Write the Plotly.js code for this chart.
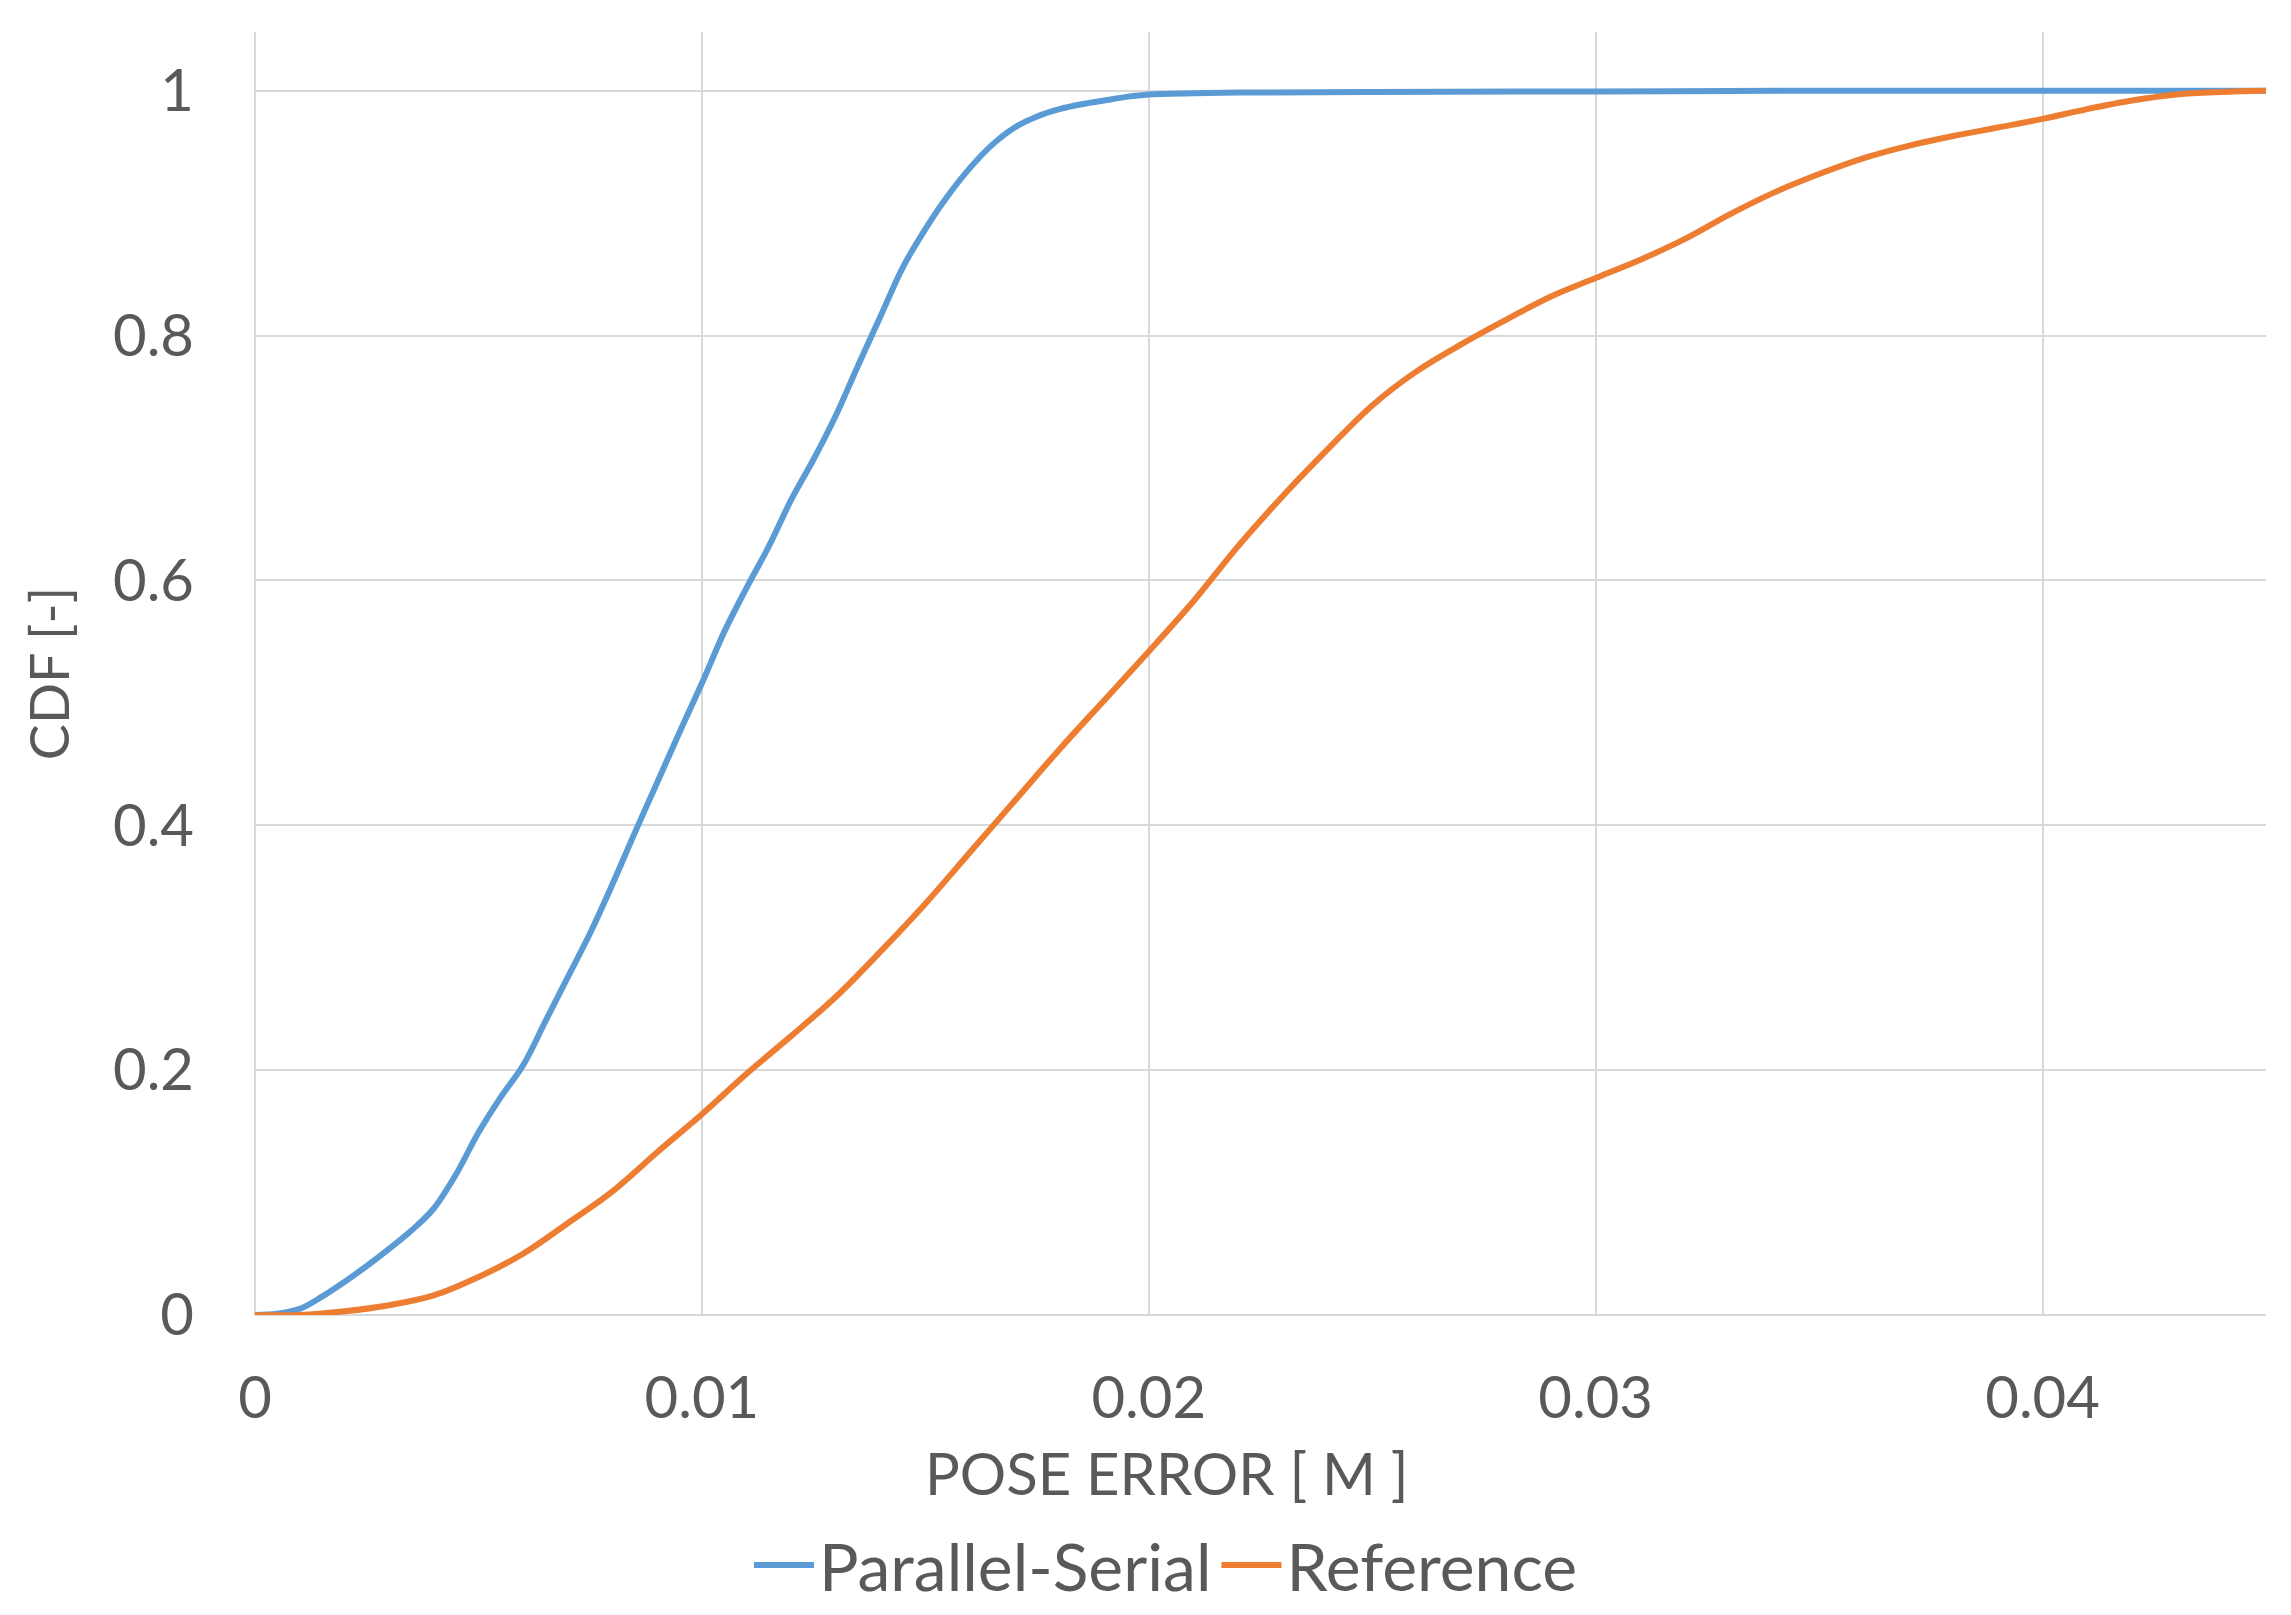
<!DOCTYPE html>
<html>
<head>
<meta charset="utf-8">
<script src="https://cdn.plot.ly/plotly-3.0.1.min.js"></script>
<style>
html,body{margin:0;padding:0;background:#fff;}
#chart{width:2291px;height:1615px;}
</style>
</head>
<body>
<div id="chart"></div>
<script>
// pose error [m] vs CDF
let errParallel=[0,0.0005,0.001,0.0015,0.002,0.0025,0.003,0.0035,0.004,0.0045,
0.005,0.0055,0.006,0.0065,0.007,0.0075,0.008,0.0085,0.009,0.0095,
0.01,0.0105,0.011,0.0115,0.012,0.0125,0.013,0.0135,0.014,0.0145,
0.015,0.0155,0.016,0.0165,0.017,0.0175,0.018,0.0185,0.019,0.0195,
0.02,0.021,0.022,0.025,0.03,0.035,0.04,0.045];

let cdfParallel=[0,0.001,0.005,0.015,0.027,0.04,0.054,0.069,0.087,0.115,
0.149,0.178,0.204,0.24,0.276,0.312,0.352,0.394,0.435,0.476,
0.516,0.558,0.594,0.628,0.666,0.699,0.735,0.776,0.816,0.856,
0.887,0.914,0.937,0.956,0.97,0.979,0.985,0.989,0.992,0.995,
0.997,0.998,0.9985,0.999,0.9995,1,1,1];

let errReference=[0,0.001,0.002,0.003,0.004,0.005,0.006,0.007,0.008,0.009,
0.01,0.011,0.012,0.013,0.014,0.015,0.016,0.017,0.018,0.019,
0.02,0.021,0.022,0.023,0.024,0.025,0.026,0.027,0.028,0.029,
0.03,0.031,0.032,0.033,0.034,0.035,0.036,0.037,0.038,0.039,
0.04,0.041,0.042,0.043,0.044,0.045];

let cdfReference=[0,0,0.003,0.008,0.016,0.031,0.05,0.075,0.101,0.133,
0.164,0.197,0.228,0.26,0.297,0.336,0.378,0.42,0.462,0.502,
0.542,0.583,0.628,0.669,0.707,0.743,0.771,0.793,0.813,0.832,
0.847,0.862,0.879,0.899,0.917,0.932,0.945,0.955,0.963,0.970,
0.977,0.985,0.992,0.997,0.999,1];

let xTicks=[0,0.01,0.02,0.03,0.04];
let xTickText=["0","0.01","0.02","0.03","0.04"];
let yTicks=[0,0.2,0.4,0.6,0.8,1];
let yTickText=["0","0.2","0.4","0.6","0.8","1"];

let font="Lato, 'Open Sans', sans-serif";
let grey="#595959";
let grid="#d9d9d9";

let traces=[
{
x:errParallel,
y:cdfParallel,
type:"scatter",
mode:"lines",
name:"Parallel-Serial",
line:{color:"#5b9bd5",width:6,shape:"spline",smoothing:1}
},
{
x:errReference,
y:cdfReference,
type:"scatter",
mode:"lines",
name:"Reference",
line:{color:"#ed7d31",width:6,shape:"spline",smoothing:1}
}
];

let layout={
width:2291,
height:1615,
paper_bgcolor:"#fff",
plot_bgcolor:"#fff",
font:{family:font,color:grey},
margin:{l:255,r:25,t:32,b:300,autoexpand:false},
showlegend:true,
legend:{
orientation:"h",
x:0.453,
xanchor:"center",
y:-0.195,
yanchor:"middle",
font:{size:66,color:grey},
itemwidth:60,
traceorder:"normal"
},
xaxis:{
range:[0,0.045],
tickvals:xTicks,
ticktext:xTickText,
showgrid:true,
gridcolor:grid,
gridwidth:2,
zeroline:true,
zerolinecolor:grid,
zerolinewidth:2,
showline:false,
ticks:"",
ticklabelstandoff:44,
tickfont:{size:58,color:grey},
automargin:false,
fixedrange:true
},
yaxis:{
range:[0,1.048],
tickvals:yTicks,
ticktext:yTickText,
showgrid:true,
gridcolor:grid,
gridwidth:2,
zeroline:true,
zerolinecolor:grid,
zerolinewidth:2,
showline:false,
ticks:"",
ticklabelstandoff:60,
tickfont:{size:58,color:grey},
title:{text:"CDF [-]",font:{size:54,color:grey},standoff:26},
automargin:false,
fixedrange:true
},
annotations:[
{
text:"POSE ERROR [ M ]",
xref:"paper",
yref:"paper",
x:0.4535,
y:-0.123,
xanchor:"center",
yanchor:"middle",
showarrow:false,
font:{size:58,color:grey}
}
]
};

Plotly.newPlot("chart",traces,layout,{displayModeBar:false,staticPlot:true});
</script>
</body>
</html>
